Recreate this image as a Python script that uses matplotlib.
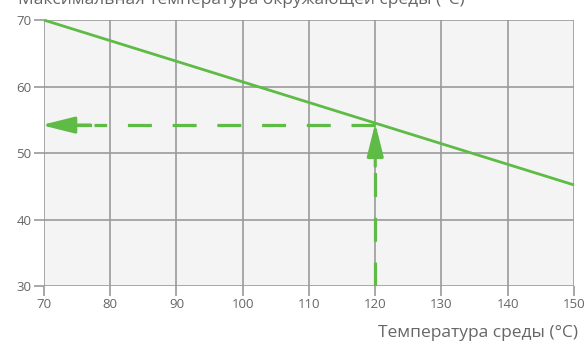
import matplotlib
matplotlib.use("Agg")
import matplotlib.pyplot as plt

plt.rcParams['font.family'] = ['Open Sans', 'DejaVu Sans']

# derating line: ambient temperature limit vs medium temperature
x_line = [70, 150]
y_line = [70, 45.2]
# example read-off point
x_pt = 120
y_pt = 54.2

x_ticks = [70, 80, 90, 100, 110, 120, 130, 140, 150]
y_ticks = [30, 40, 50, 60, 70]

title = "Максимальная температура окружающей среды (°C)"
xlabel = "Температура среды (°C)"

green = "#5dbb46"
grid_c = "#9a9a9a"
text_c = "#666666"

fig = plt.figure(figsize=(5.85, 3.52), dpi=100)
ax = fig.add_axes([0.0752, 0.1875, 0.906, 0.7555])
ax.set_facecolor("#f4f4f4")

ax.set_xlim(70, 150)
ax.set_ylim(30, 70)
ax.set_xticks(x_ticks)
ax.set_yticks(y_ticks)
ax.grid(True, color=grid_c, lw=1.2)
ax.set_axisbelow(True)
for s in ax.spines.values():
    s.set_visible(False)
ax.tick_params(length=7, width=1.2, color=grid_c, labelcolor=text_c, labelsize=9.5, pad=2)

ax.plot(x_line, y_line, color=green, lw=2, solid_capstyle="butt", clip_on=False, zorder=3)

# dashed guides
ax.plot([x_pt, 77.5], [y_pt, y_pt], color=green, lw=2.3, dashes=(7.5, 6.5), zorder=3)
ax.plot([75, 77], [y_pt, y_pt], color=green, lw=2.3, zorder=3)
ax.plot([x_pt, x_pt], [30, 49], color=green, lw=2.3, dashes=(7.5, 6.5), zorder=3)

# arrow heads
head = "-|>,head_length=2.0,head_width=0.5"
ax.annotate("", xy=(69.6, y_pt), xytext=(77, y_pt), annotation_clip=False,
            arrowprops=dict(arrowstyle=head, color=green, lw=2.3,
                            shrinkA=0, shrinkB=0), zorder=4)
ax.annotate("", xy=(x_pt, y_pt + 0.3), xytext=(x_pt, 48), annotation_clip=False,
            arrowprops=dict(arrowstyle=head, color=green, lw=2.3,
                            shrinkA=0, shrinkB=0), zorder=4)

fig.text(0.031, 1.0, title, color=text_c, fontsize=12.5, ha="left", va="center")
fig.text(0.988, 0.03, xlabel, color=text_c, fontsize=12.5, ha="right", va="bottom")

fig.savefig("out.png", dpi=100)
